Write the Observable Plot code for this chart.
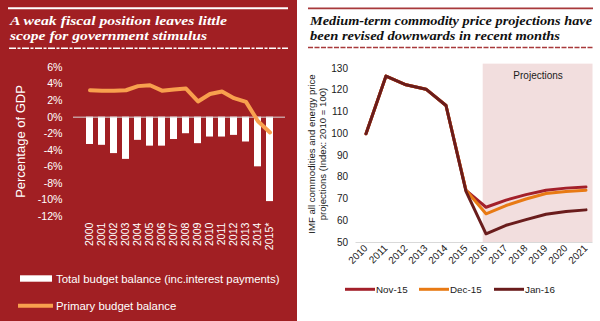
<!DOCTYPE html>
<html><head><meta charset="utf-8">
<script src="https://cdn.jsdelivr.net/npm/d3@7"></script>
<script src="https://cdn.jsdelivr.net/npm/@observablehq/plot@0.6"></script>
<style>
html,body{margin:0;padding:0;}
body{width:600px;height:321px;overflow:hidden;position:relative;font-family:"Liberation Sans",Arial,sans-serif;background:#fff}
#leftbg{position:absolute;left:0;top:0;width:297px;height:321px;background:#A11F23}
#leftplot{position:absolute;left:0;top:55px}
#rightplot{position:absolute;left:300px;top:55px}
#overlay{position:absolute;left:0;top:0;pointer-events:none}
</style></head>
<body>
<div id="leftbg"></div>
<div id="leftplot"></div>
<div id="rightplot"></div>
<svg id="overlay" width="600" height="321" xmlns="http://www.w3.org/2000/svg"></svg>
<script>
// ---------- Left chart data ----------
const years = ["2000","2001","2002","2003","2004","2005","2006","2007","2008","2009","2010","2011","2012","2013","2014","2015*"];
const totalBalance = [-3.3,-3.4,-4.4,-5.1,-2.8,-3.5,-3.5,-2.7,-2.0,-3.2,-2.4,-2.4,-2.2,-3.0,-6.0,-10.2];
const primaryBalance = [3.25,3.2,3.2,3.25,3.75,3.85,3.2,3.35,3.45,1.9,2.8,3.1,2.3,1.85,-0.5,-1.85];
const leftTicks = [-12,-10,-8,-6,-4,-2,0,2,4,6];
const leftLegend = ["Total budget balance (inc.interest payments)", "Primary budget balance"];

// ---------- Right chart data ----------
const rYears = [2010,2011,2012,2013,2014,2015,2016,2017,2018,2019,2020,2021];
const seriesNames = ["Nov-15","Dec-15","Jan-16"];
const nov15 = [100,126.5,122.5,120.5,113,74,66.2,69.5,72,74,75,75.5];
const dec15 = [100,126.5,122.5,120.5,113,74,63.2,67,70,72.5,73.5,74];
const jan16 = [100,126.5,122.5,120.5,113,73.5,54,57.9,60.5,63,64.3,65];
const rightTicks = [50,60,70,80,90,100,110,120,130];
const projection = [{start: 2015.86, end: 2021.35, low: 50, high: 132, label: "Projections", labelY: 126.5}];
const seriesColors = ["#A3202A","#E87A14","#6A1C1C"];

// ---------- Left plot ----------
const leftData = years.map((y,i)=>({year:y,total:totalBalance[i],primary:primaryBalance[i]}));
const left = Plot.plot({
  width: 297, height: 200,
  marginTop: 12, marginBottom: 39, marginLeft: 73, marginRight: 12,
  style: {background: "transparent", color: "#fff", fontFamily: "Liberation Sans, Arial, sans-serif", fontSize: "10.6px"},
  x: {domain: years, padding: 0.45, tickSize: 0, tickRotate: -90, tickPadding: 6, label: null},
  y: {domain: [-12, 6], ticks: leftTicks, tickFormat: d => d + "%", tickSize: 0, tickPadding: 11, label: null},
  marks: [
    Plot.barY(leftData, {x: "year", y1: 0, y2: "total", fill: "#fff"}),
    Plot.ruleY([0], {stroke: "#d9d9d9", strokeWidth: 1}),
    Plot.lineY(leftData, {x: "year", y: "primary", stroke: "#F8A04E", strokeWidth: 4, curve: "linear"})
  ]
});
document.getElementById("leftplot").appendChild(left);

// ---------- Right plot ----------
const rData = [];
[nov15, dec15, jan16].forEach((arr, k) => arr.forEach((v, i) => rData.push({series: seriesNames[k], year: rYears[i], value: v})));
const right = Plot.plot({
  width: 300, height: 220,
  marginTop: 13, marginBottom: 33, marginLeft: 55.5, marginRight: 7.5,
  style: {background: "transparent", color: "#1a1a1a", fontFamily: "Liberation Sans, Arial, sans-serif", fontSize: "10px"},
  x: {domain: [2009.5, 2021.35], ticks: rYears, tickFormat: d => String(d), tickRotate: -45, tickSize: 0, tickPadding: 4, label: null},
  y: {domain: [50, 130], ticks: rightTicks, tickSize: 0, tickPadding: 8, label: null},
  color: {domain: seriesNames, range: seriesColors},
  marks: [
    Plot.rect(projection, {x1: "start", x2: "end", y1: "low", y2: "high", fill: "#F2DEDE"}),
    Plot.ruleY([50], {stroke: "#d9d9d9", strokeWidth: 1}),
    Plot.text(projection, {x: d => (d.start + d.end) / 2, y: "labelY", text: "label", fill: "#1a1a1a", fontSize: 10}),
    Plot.line(rData, {x: "year", y: "value", z: "series", stroke: "series", strokeWidth: 3})
  ]
});
document.getElementById("rightplot").appendChild(right);

// ---------- Overlay: titles, rules, legends, axis titles ----------
const svg = d3.select("#overlay");
// left header
svg.append("line").attr("x1",8).attr("x2",288).attr("y1",8.3).attr("y2",8.3).attr("stroke","#fff").attr("stroke-width",2);
svg.append("line").attr("x1",9).attr("x2",288).attr("y1",48.2).attr("y2",48.2).attr("stroke","#fff").attr("stroke-width",1.5).attr("stroke-dasharray","7 1.5 3 1.5");
const tStyle = (sel, fill) => sel.attr("font-family","Liberation Serif, serif").attr("font-weight","bold").attr("font-style","italic").attr("font-size","13.5px").attr("fill",fill).attr("lengthAdjust","spacingAndGlyphs");
tStyle(svg.append("text").attr("x",10).attr("y",25).attr("textLength",217).text("A weak fiscal position leaves little"),"#fff");
tStyle(svg.append("text").attr("x",10).attr("y",39.5).attr("textLength",197).text("scope for government stimulus"),"#fff");
// right header
svg.append("line").attr("x1",308).attr("x2",593).attr("y1",8.3).attr("y2",8.3).attr("stroke","#A8393B").attr("stroke-width",1.8);
svg.append("line").attr("x1",308).attr("x2",593).attr("y1",47.5).attr("y2",47.5).attr("stroke","#A8393B").attr("stroke-width",1.5).attr("stroke-dasharray","5 1.5");
tStyle(svg.append("text").attr("x",310).attr("y",25).attr("textLength",282).text("Medium-term commodity price projections have"),"#111");
tStyle(svg.append("text").attr("x",310).attr("y",39.5).attr("textLength",250).text("been revised downwards in recent months"),"#111");

// left y-axis title
svg.append("text").attr("transform","translate(24.5,141.5) rotate(-90)").attr("text-anchor","middle")
  .attr("font-size","13px").attr("fill","#fff").attr("font-family","Liberation Sans, Arial, sans-serif").text("Percentage of GDP");
// right y-axis title
const ry = svg.append("text").attr("transform","translate(314.5,154) rotate(-90)").attr("text-anchor","middle")
  .attr("font-size","9.6px").attr("fill","#1a1a1a").attr("font-family","Liberation Sans, Arial, sans-serif");
ry.append("tspan").attr("x",0).attr("dy",0).text("IMF all commodities and energy price");
ry.append("tspan").attr("x",0).attr("dy",11).text("projections (Index: 2010 = 100)");

// left legend
svg.append("rect").attr("x",20).attr("y",275.3).attr("width",32).attr("height",6.4).attr("fill","#fff");
svg.append("text").attr("x",56).attr("y",282.5).attr("font-size","11.4px").attr("fill","#fff").attr("font-family","Liberation Sans, Arial, sans-serif").text(leftLegend[0]);
svg.append("line").attr("x1",18).attr("x2",53).attr("y1",305.7).attr("y2",305.7).attr("stroke","#F8A04E").attr("stroke-width",4);
svg.append("text").attr("x",56).attr("y",310).attr("font-size","11.4px").attr("fill","#fff").attr("font-family","Liberation Sans, Arial, sans-serif").text(leftLegend[1]);

// right legend
const legX = [345, 419, 494];
seriesNames.forEach((s, i) => {
  svg.append("line").attr("x1",legX[i]).attr("x2",legX[i]+30).attr("y1",289.3).attr("y2",289.3).attr("stroke",seriesColors[i]).attr("stroke-width",3);
  svg.append("text").attr("x",legX[i]+31).attr("y",292.8).attr("font-size","9.8px").attr("fill","#1a1a1a").attr("font-family","Liberation Sans, Arial, sans-serif").text(s);
});
</script>
</body></html>
